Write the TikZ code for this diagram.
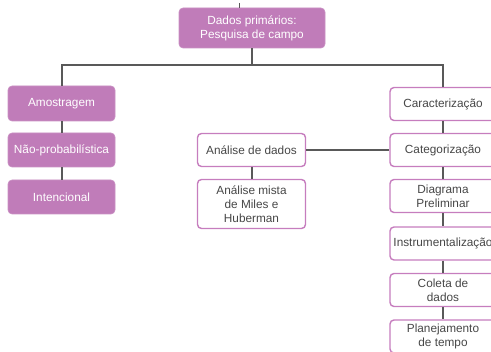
\documentclass[tikz,border=0pt]{standalone}
\usepackage{fontspec}
\setmainfont{Liberation Sans}
\definecolor{plum}{HTML}{C07CB9}
\definecolor{plumline}{HTML}{C67DBE}
\definecolor{wire}{HTML}{595959}
\definecolor{ink}{HTML}{474747}
\tikzset{
  base/.style={rectangle, rounded corners=4pt, inner sep=0pt, align=center,
    font=\fontsize{11.8}{13.8}\selectfont},
  filled/.style={base, fill=plum, draw=plum!85!white, line width=0.6pt, text=white},
  outlined/.style={base, fill=white, draw=plumline, line width=1.4pt, text=ink},
  wirestyle/.style={draw=wire, line width=2pt}
}
\begin{document}
\begin{tikzpicture}[x=1pt,y=1pt]
\useasboundingbox (0,0) rectangle (491,-352);

% top
\node[filled, minimum width=146pt, minimum height=40pt] (top) at (252,-28)
  {Dados primários:\\Pesquisa de campo};
\coordinate (above) at (239,-3);

% left column
\node[filled, minimum width=107pt, minimum height=35pt] (amo) at (61.5,-103.5) {Amostragem};
\node[filled, minimum width=107pt, minimum height=34pt] (nao) at (61.5,-150) {Não-probabilística};
\node[filled, minimum width=107pt, minimum height=34pt] (int) at (61.5,-197) {Intencional};

% middle column
\node[outlined, minimum width=108pt, minimum height=33pt] (ad) at (251.5,-150) {Análise de dados};
\node[outlined, minimum width=108pt, minimum height=49pt] (am) at (251.5,-204)
  {Análise mista\\de Miles e\\Huberman};

% right column
\node[outlined, minimum width=106pt, minimum height=33pt] (car) at (443,-104) {Caracterização};
\node[outlined, minimum width=106pt, minimum height=33pt] (cat) at (443,-150) {Categorização};
\node[outlined, minimum width=106pt, minimum height=33pt] (dia) at (443,-196) {Diagrama\\Preliminar};
\node[outlined, minimum width=106pt, minimum height=33pt] (ins) at (443,-243.5) {Instrumentalização};
\node[outlined, minimum width=106pt, minimum height=33pt] (col) at (443,-290) {Coleta de\\dados};
\node[outlined, minimum width=106pt, minimum height=33pt] (pla) at (443,-336.5) {Planejamento\\de tempo};

% connectors
\draw[wire, line width=1pt] (above) -- (above |- top.north);
\draw[wirestyle] (top.south) -- ++(0,-17) -| (amo.north);
\draw[wirestyle] (top.south) -- ++(0,-17) -| (car.north);
\draw[wirestyle] (amo) -- (nao);
\draw[wirestyle] (nao) -- (int);
\draw[wirestyle] (ad) -- (am);
\draw[wirestyle] (ad) -- (cat);
\draw[wirestyle] (car) -- (cat);
\draw[wirestyle] (cat) -- (dia);
\draw[wirestyle] (dia) -- (ins);
\draw[wirestyle] (ins) -- (col);
\draw[wirestyle] (col) -- (pla);
\end{tikzpicture}
\end{document}
